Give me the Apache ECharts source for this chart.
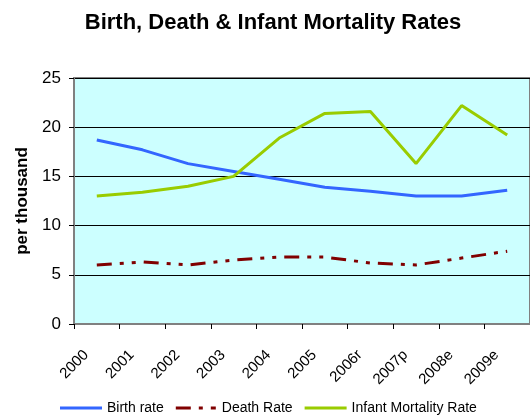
<!DOCTYPE html>
<html>
<head>
<meta charset="utf-8">
<script src="https://cdn.jsdelivr.net/npm/echarts@6/dist/echarts.min.js"></script>
<style>
  html, body { margin: 0; padding: 0; background: #fff; }
  #chart { width: 530px; height: 415px; }
</style>
</head>
<body>
<div id="chart"></div>
<script>
const years = ['2000', '2001', '2002', '2003', '2004', '2005', '2006r', '2007p', '2008e', '2009e']
const birthRate = [18.7, 17.7, 16.3, 15.5, 14.7, 13.9, 13.5, 13.0, 13.0, 13.6]
const deathRate = [6.0, 6.3, 6.0, 6.5, 6.8, 6.8, 6.2, 6.0, 6.7, 7.4]
const infantRate = [13.0, 13.4, 14.0, 15.0, 18.9, 21.4, 21.6, 16.3, 22.2, 19.2]

const font = 'Liberation Sans, Arial, sans-serif'

const chart = echarts.init(document.getElementById('chart'))

const option = {
  animation: false,
  title: {
    text: 'Birth, Death & Infant Mortality Rates',
    left: 268,
    textAlign: 'center',
    top: 7,
    textStyle: { fontFamily: font, fontSize: 22, fontWeight: 'bold', color: '#000' }
  },
  legend: {
    left: 60,
    top: 401,
    padding: 0,
    itemWidth: 42,
    itemHeight: 3,
    itemGap: 12,
    textStyle: { fontFamily: font, fontSize: 14, color: '#000' },
    data: [
      { name: 'Birth rate', icon: 'rect' },
      // long dash, short dash, short dash like the series line
      { name: 'Death Rate', icon: 'path://M0,0h15v3h-15z M23,0h4v3h-4z M35,0h5v3h-5z' },
      { name: 'Infant Mortality Rate', icon: 'rect' }
    ]
  },
  grid: {
    left: 74,
    top: 78,
    right: -6,
    bottom: 91,
    show: true,
    backgroundColor: '#CCFFFF',
    borderColor: '#808080',
    borderWidth: 2
  },
  xAxis: {
    type: 'category',
    data: years,
    boundaryGap: true,
    axisLine: { lineStyle: { color: '#808080', width: 2 } },
    axisTick: { show: true, length: 5, inside: false, lineStyle: { color: '#000' } },
    axisLabel: {
      rotate: 45,
      interval: 0,
      margin: 18,
      padding: [0, 15, 0, 0],
      fontFamily: font,
      fontSize: 15,
      color: '#000'
    }
  },
  yAxis: {
    type: 'value',
    min: 0,
    max: 25,
    interval: 5,
    name: 'per thousand',
    nameLocation: 'middle',
    nameGap: 42,
    nameTextStyle: { fontFamily: font, fontSize: 17, fontWeight: 'bold', color: '#000' },
    axisLine: { show: true, lineStyle: { color: '#808080', width: 2 } },
    axisTick: { show: true, length: 5, lineStyle: { color: '#000' } },
    axisLabel: { margin: 13, fontFamily: font, fontSize: 17, color: '#000' },
    splitLine: { show: true, lineStyle: { color: '#000', width: 1 } }
  },
  series: [
    {
      name: 'Birth rate',
      type: 'line',
      data: birthRate,
      symbol: 'none',
      color: '#3366FF',
      lineStyle: { color: '#3366FF', width: 3 }
    },
    {
      name: 'Death Rate',
      type: 'line',
      data: deathRate,
      symbol: 'none',
      color: '#800000',
      lineStyle: { color: '#800000', width: 3, type: [15, 8, 4, 8, 4, 8] }
    },
    {
      name: 'Infant Mortality Rate',
      type: 'line',
      data: infantRate,
      symbol: 'none',
      color: '#99CC00',
      lineStyle: { color: '#99CC00', width: 3 }
    }
  ]
}

chart.setOption(option)
</script>
</body>
</html>
